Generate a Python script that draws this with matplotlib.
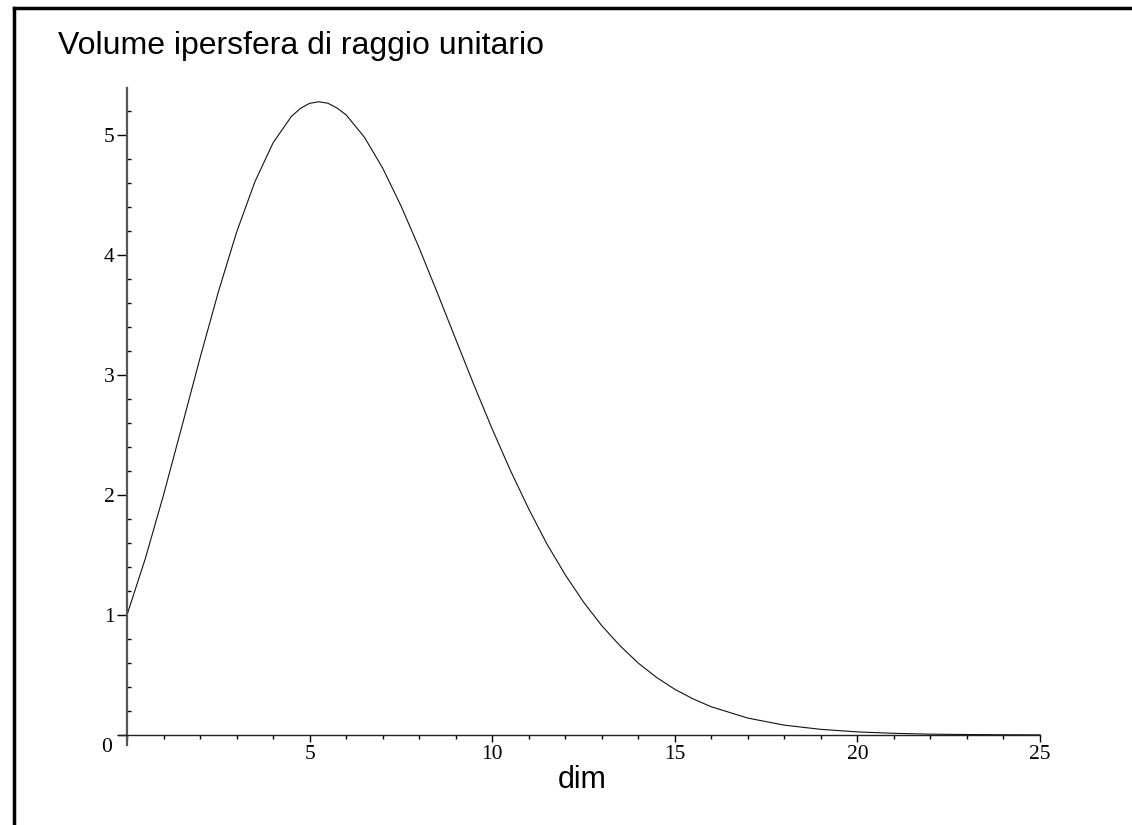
import matplotlib
matplotlib.use("Agg")
import matplotlib.pyplot as plt
import matplotlib.transforms as mtransforms
from matplotlib.ticker import MultipleLocator, FixedLocator
from matplotlib.lines import Line2D

# Volume of the unit hypersphere as a function of the dimension
dims = [0, 0.5, 1, 1.5, 2, 2.5, 3, 3.5, 4, 4.5, 4.75, 5, 5.25, 5.5, 5.75, 6,
        6.5, 7, 7.5, 8, 8.5, 9, 9.5, 10, 10.5, 11, 11.5, 12, 12.5, 13, 13.5,
        14, 14.5, 15, 15.5, 16, 17, 18, 19, 20, 21, 22, 23, 24, 25]
volumes = [1.0, 1.469, 2.0, 2.568, 3.142, 3.691, 4.189, 4.609, 4.935, 5.154,
           5.222, 5.264, 5.277, 5.265, 5.225, 5.168, 4.982, 4.725, 4.411,
           4.059, 3.683, 3.299, 2.917, 2.550, 2.204, 1.884, 1.591, 1.335,
           1.108, 0.911, 0.744, 0.599, 0.480, 0.381, 0.301, 0.235, 0.141,
           0.082, 0.047, 0.026, 0.014, 0.007, 0.004, 0.002, 0.001]

x_major = [5, 10, 15, 20, 25]
y_major = [0, 1, 2, 3, 4, 5]

title = "Volume ipersfera di raggio unitario"
xlabel = "dim"

W, H = 1132, 825
fig = plt.figure(figsize=(W / 100, H / 100), dpi=100)

# axes placement in pixels
x0_px, x25_px = 127, 1040
y0_px, y5_px = 735, 135
sx = (x25_px - x0_px) / 25.0
sy = (y0_px - y5_px) / 5.0
left_px, right_px = 119, 1040
top_px, bottom_px = 88, 745
xmin = -(x0_px - left_px) / sx
ymin = -(bottom_px - y0_px) / sy
ymax = (y0_px - top_px) / sy

ax = fig.add_axes([left_px / W, (H - bottom_px) / H,
                   (right_px - left_px) / W, (bottom_px - top_px) / H])
ax.set_xlim(xmin, 25)
ax.set_ylim(ymin, ymax)

ax.plot(dims, volumes, color="#111111", lw=0.8, clip_on=False)

for s in ("top", "right"):
    ax.spines[s].set_visible(False)
ax.spines["left"].set_position(("data", 0))
ax.spines["bottom"].set_position(("data", 0))
ax.spines["bottom"].set_linewidth(1.0)
ax.spines["bottom"].set_color("#222222")
ax.spines["left"].set_color("#555555")
ax.spines["left"].set_linewidth(1.6)

serif = "Liberation Serif"
ax.xaxis.set_major_locator(FixedLocator(x_major))
ax.xaxis.set_minor_locator(MultipleLocator(1))
ax.yaxis.set_major_locator(FixedLocator(y_major))
ax.yaxis.set_minor_locator(MultipleLocator(0.2))
ax.tick_params(axis="x", which="major", direction="out", length=5, width=1,
               pad=2, labelsize=15.5)
ax.tick_params(axis="x", which="minor", direction="out", length=3, width=1)
ax.tick_params(axis="y", which="major", direction="out", length=7, width=1,
               pad=2, labelsize=15.5)
ax.tick_params(axis="y", which="minor", direction="in", length=3, width=1)
ax.set_xticklabels([str(v) for v in x_major], fontfamily=serif)
ax.set_yticklabels([str(v) for v in y_major], fontfamily=serif)
# shift the "0" label of the y axis below the origin
ylabels = ax.get_yticklabels()
ylabels[0].set_transform(ylabels[0].get_transform() +
                         mtransforms.ScaledTranslation(-0.02, -0.1, fig.dpi_scale_trans))

fig.text(582 / W, 1 - 780 / H, xlabel, fontsize=22, family="Liberation Sans",
         ha="center", va="center")
fig.text(58 / W, 1 - 46 / H, title, fontsize=23, family="Liberation Sans",
         ha="left", va="center")

# frame along the top and left edges
fig.add_artist(Line2D([14 / W, 1], [1 - 7.5 / H, 1 - 7.5 / H],
                      transform=fig.transFigure, color="black", lw=2.5))
fig.add_artist(Line2D([14 / W, 14 / W], [0, 1 - 7.5 / H],
                      transform=fig.transFigure, color="black", lw=2.5))

fig.savefig("out.png", dpi=100)
